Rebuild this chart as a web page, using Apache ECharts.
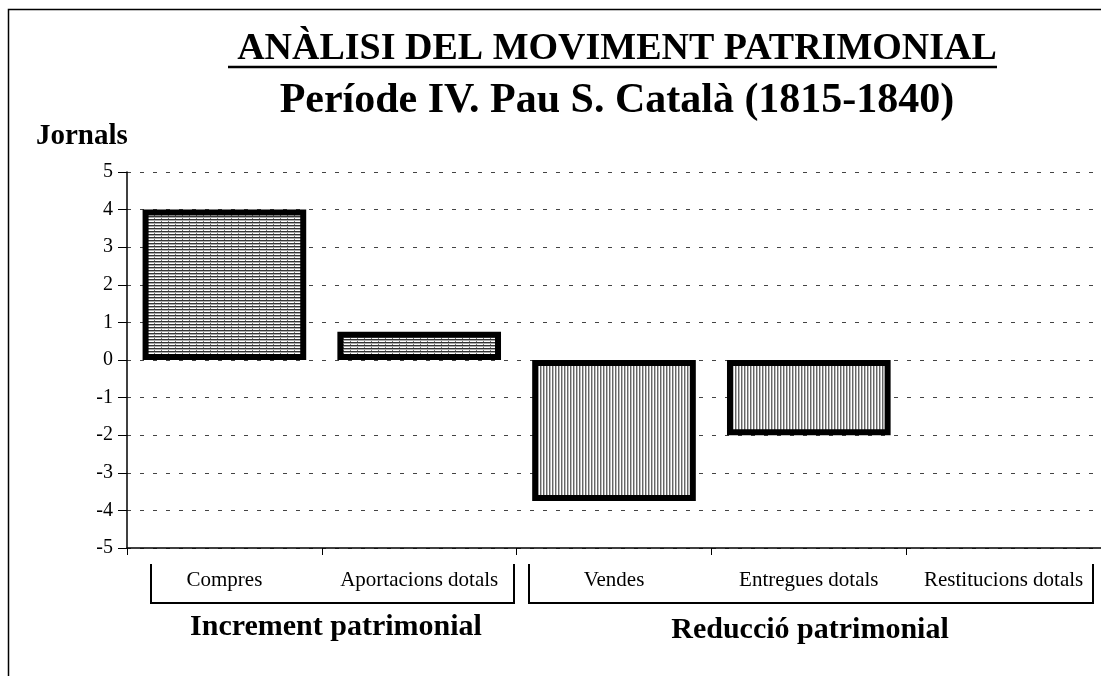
<!DOCTYPE html>
<html>
<head>
<meta charset="utf-8">
<script src="https://cdn.jsdelivr.net/npm/echarts@6/dist/echarts.min.js"></script>
<style>
  html, body { margin: 0; padding: 0; background: #fff; }
  #main { width: 1101px; height: 676px; }
</style>
</head>
<body>
<div id="main"></div>
<script>
var categories = ["Compres", "Aportacions dotals", "Vendes", "Entregues dotals", "Restitucions dotals"];
var increment = [4, 0.75, "-", "-", "-"];
var reduccio = ["-", "-", -3.75, -2, 0];
var yTicks = [-5, 5, 1];
var groupLabels = ["Increment patrimonial", "Reducció patrimonial"];

var SERIF = "'Liberation Serif', 'Times New Roman', serif";

function makePattern(kind) {
  var c = document.createElement("canvas");
  var ctx = c.getContext("2d");
  if (kind === "h") {
    c.width = 7; c.height = 3;
    ctx.fillStyle = "#fff"; ctx.fillRect(0, 0, 7, 3);
    ctx.fillStyle = "#333"; ctx.fillRect(0, 0, 7, 1);
    ctx.fillStyle = "#aaa"; ctx.fillRect(0, 1, 7, 1);
    ctx.fillStyle = "#777"; ctx.fillRect(0, 2, 1, 1);
  } else {
    c.width = 3; c.height = 4;
    ctx.fillStyle = "#fff"; ctx.fillRect(0, 0, 3, 4);
    ctx.fillStyle = "#666"; ctx.fillRect(0, 0, 1, 4);
    ctx.fillStyle = "#bbb"; ctx.fillRect(1, 0, 1, 4);
  }
  return c;
}

// zero-height bars get no outline (nothing is drawn for them in the original)
function toItems(arr) {
  return arr.map(function (v) {
    if (v === 0) return { value: v, itemStyle: { borderWidth: 0 } };
    return v;
  });
}

var chart = echarts.init(document.getElementById("main"));

var option = {
  animation: false,
  backgroundColor: "#fff",
  title: [{
    text: "ANÀLISI DEL MOVIMENT PATRIMONIAL",
    left: 612, top: 25, textAlign: "center",
    textStyle: { fontFamily: SERIF, fontWeight: "bold", fontSize: 38, color: "#000" }
  }, {
    text: "Període IV. Pau S. Català (1815-1840)",
    left: 612, top: 75, textAlign: "center",
    textStyle: { fontFamily: SERIF, fontWeight: "bold", fontSize: 42, color: "#000" }
  }, {
    text: "Jornals",
    left: 31, top: 117,
    textStyle: { fontFamily: SERIF, fontWeight: "bold", fontSize: 29, color: "#000" }
  }],
  grid: { left: 127, right: -2, top: 172, bottom: 128, containLabel: false },
  xAxis: {
    type: "category",
    data: categories,
    axisLine: { onZero: false, lineStyle: { color: "#000", width: 1.5 } },
    axisTick: { show: true, inside: false, length: 7, lineStyle: { color: "#000" } },
    axisLabel: { margin: 22, fontFamily: SERIF, fontSize: 21, color: "#000", interval: 0 },
    splitLine: { show: false }
  },
  yAxis: {
    type: "value",
    min: yTicks[0], max: yTicks[1], interval: yTicks[2],
    axisLine: { show: true, lineStyle: { color: "#000", width: 1.5 } },
    axisTick: { show: true, length: 9, lineStyle: { color: "#000" } },
    axisLabel: { margin: 14, fontFamily: SERIF, fontSize: 20, color: "#000" },
    splitLine: { show: true, lineStyle: { color: "#444", type: [4, 9], width: 1 } }
  },
  series: [{
    type: "bar",
    data: toItems(increment),
    stack: "a",
    barWidth: "84%",
    itemStyle: {
      color: { image: makePattern("h"), repeat: "repeat" },
      borderColor: "#000", borderWidth: 6
    }
  }, {
    type: "bar",
    data: toItems(reduccio),
    stack: "a",
    barWidth: "84%",
    itemStyle: {
      color: { image: makePattern("v"), repeat: "repeat" },
      borderColor: "#000", borderWidth: 6
    }
  }],
  graphic: [
    { type: "rect", shape: { x: 8.5, y: 9.5, width: 1200, height: 800 },
      style: { fill: null, stroke: "#000", lineWidth: 1.5 }, silent: true },
    { type: "line", shape: { x1: 228, y1: 67, x2: 997, y2: 67 },
      style: { stroke: "#000", lineWidth: 2.5 } },
    { type: "polyline", shape: { points: [[151, 564], [151, 603], [514, 603], [514, 564]] },
      style: { fill: null, stroke: "#000", lineWidth: 2 } },
    { type: "polyline", shape: { points: [[529, 564], [529, 603], [1093, 603], [1093, 564]] },
      style: { fill: null, stroke: "#000", lineWidth: 2 } },
    { type: "text", x: 336, y: 612,
      style: { text: groupLabels[0], fontFamily: SERIF, fontWeight: "bold", fontSize: 30, fill: "#000", align: "center" } },
    { type: "text", x: 810, y: 615,
      style: { text: groupLabels[1], fontFamily: SERIF, fontWeight: "bold", fontSize: 30, fill: "#000", align: "center" } }
  ]
};

chart.setOption(option);
</script>
</body>
</html>
